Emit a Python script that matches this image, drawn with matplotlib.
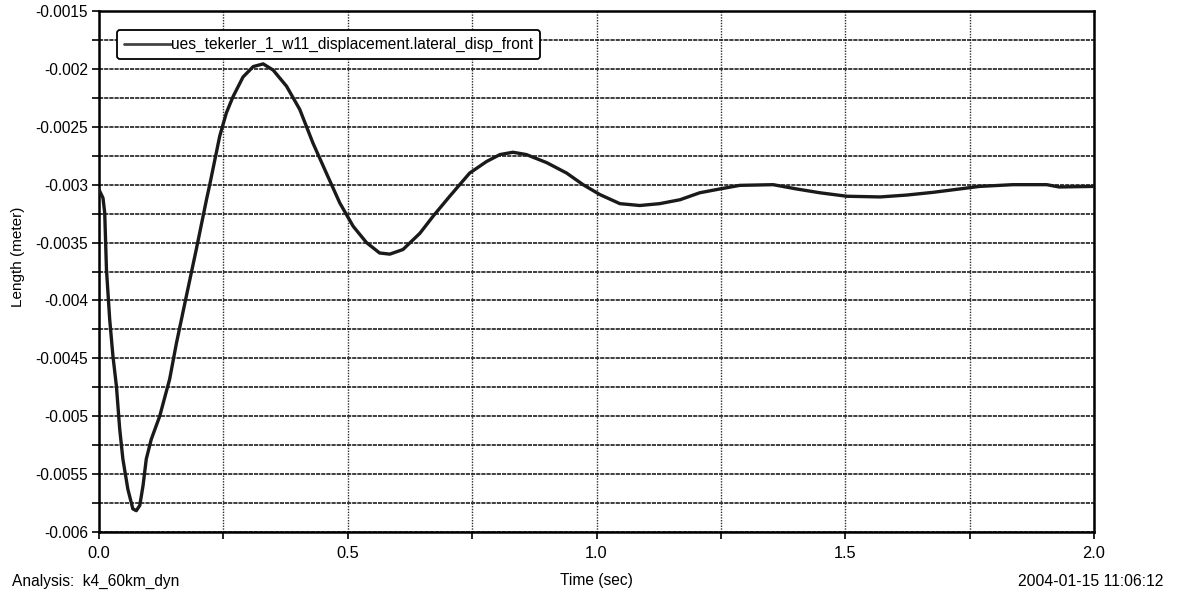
import matplotlib
matplotlib.use("Agg")
import matplotlib.pyplot as plt
from matplotlib.ticker import MultipleLocator, FixedLocator, FixedFormatter

plt.rcParams['font.family'] = ['Liberation Sans', 'DejaVu Sans']

# Data
time_s = [0.0, 0.008, 0.0115, 0.015, 0.0215, 0.028, 0.035, 0.0416, 0.048, 0.058,
          0.068, 0.075, 0.082, 0.0885, 0.095, 0.105, 0.122, 0.142, 0.1556, 0.1757,
          0.196, 0.216, 0.2226, 0.2427, 0.256, 0.2694, 0.2895, 0.31, 0.33, 0.35,
          0.377, 0.4035, 0.43, 0.457, 0.484, 0.511, 0.5376, 0.564, 0.5845, 0.611,
          0.645, 0.672, 0.705, 0.745, 0.779, 0.806, 0.832, 0.859, 0.9, 0.94,
          0.973, 1.007, 1.047, 1.087, 1.127, 1.168, 1.2075, 1.248, 1.288, 1.355,
          1.402, 1.449, 1.503, 1.57, 1.623, 1.677, 1.73, 1.77, 1.837, 1.905,
          1.93, 2.0]
lateral_disp = [-0.003043, -0.003115, -0.003244, -0.003733, -0.004164, -0.00448, -0.00474, -0.00511, -0.00537, -0.00563,
                -0.0058, -0.005816, -0.00577, -0.0056, -0.00537, -0.0052, -0.005, -0.00468, -0.00437, -0.00396,
                -0.00355, -0.00313, -0.0030, -0.00258, -0.00238, -0.00224, -0.00207, -0.00198, -0.001957, -0.00201,
                -0.00215, -0.00235, -0.00264, -0.0029, -0.003158, -0.00336, -0.0035, -0.00359, -0.0036, -0.00356,
                -0.00342, -0.00327, -0.0031, -0.0029, -0.0028, -0.00274, -0.00272, -0.00274, -0.00281, -0.0029,
                -0.0030, -0.003086, -0.003164, -0.00318, -0.003164, -0.00313, -0.00307, -0.003037, -0.003006, -0.003,
                -0.003037, -0.00307, -0.0031, -0.003106, -0.00309, -0.003066, -0.003037, -0.003015, -0.003, -0.003,
                -0.00302, -0.003015]

series_name = "ues_tekerler_1_w11_displacement.lateral_disp_front"
y_ticks = [-0.006, -0.0055, -0.005, -0.0045, -0.004, -0.0035, -0.003, -0.0025, -0.002, -0.0015]
y_tick_labels = ['-0.006', '-0.0055', '-0.005', '-0.0045', '-0.004', '-0.0035', '-0.003', '-0.0025', '-0.002', '-0.0015']
x_ticks = [0.0, 0.5, 1.0, 1.5, 2.0]
x_tick_labels = ['0.0', '0.5', '1.0', '1.5', '2.0']

W, H = 1183, 595
fig = plt.figure(figsize=(W / 100, H / 100), dpi=100)
ax = fig.add_axes([99 / W, 1 - 532 / H, (1094 - 99) / W, (532 - 11) / H])

ax.plot(time_s, lateral_disp, color='#1a1a1a', lw=2.4, solid_joinstyle='round',
        solid_capstyle='round', label=series_name, zorder=3)

ax.set_xlim(0.0, 2.0)
ax.set_ylim(-0.006, -0.0015)

ax.yaxis.set_major_locator(FixedLocator(y_ticks))
ax.yaxis.set_major_formatter(FixedFormatter(y_tick_labels))
ax.yaxis.set_minor_locator(MultipleLocator(0.00025))
ax.xaxis.set_major_locator(FixedLocator(x_ticks))
ax.xaxis.set_major_formatter(FixedFormatter(x_tick_labels))
ax.xaxis.set_minor_locator(MultipleLocator(0.25))

ax.tick_params(axis='both', which='both', direction='out', length=5, width=1.2, color='black')
ax.tick_params(axis='y', labelsize=11.2, pad=3)
ax.tick_params(axis='x', labelsize=11.8, pad=5)

# grid
ax.grid(True, which='both', axis='y', color='#1e1e1e', lw=1.2, linestyle=(0, (2.5, 0.6)))
ax.grid(True, which='both', axis='x', color='#2e2e2e', lw=1.0, linestyle=(0, (1, 1)))
ax.set_axisbelow(True)

for s in ax.spines.values():
    s.set_linewidth(1.8)
    s.set_color('black')

leg = ax.legend(loc='upper left', bbox_to_anchor=(18 / 995, 1 - 19 / 521), fontsize=11.2,
                frameon=True, fancybox=True, edgecolor='black', framealpha=1,
                handlelength=3.0, handletextpad=0.05, borderpad=0.45, borderaxespad=0)
leg.get_frame().set_linewidth(1.3)
for ln in leg.get_lines():
    ln.set_color('#444444')
    ln.set_linewidth(2.0)

fig.text(18 / W, 1 - 257 / H, "Length (meter)", rotation=90, ha='center', va='center', fontsize=11)
fig.text(12 / W, 1 - 581 / H, "Analysis:  k4_60km_dyn", ha='left', va='center', fontsize=11.2)
fig.text(596 / W, 1 - 581 / H, "Time (sec)", ha='center', va='center', fontsize=11.2)
fig.text(1163 / W, 1 - 581 / H, "2004-01-15 11:06:12", ha='right', va='center', fontsize=11.3)

fig.savefig("out.png", dpi=100)
